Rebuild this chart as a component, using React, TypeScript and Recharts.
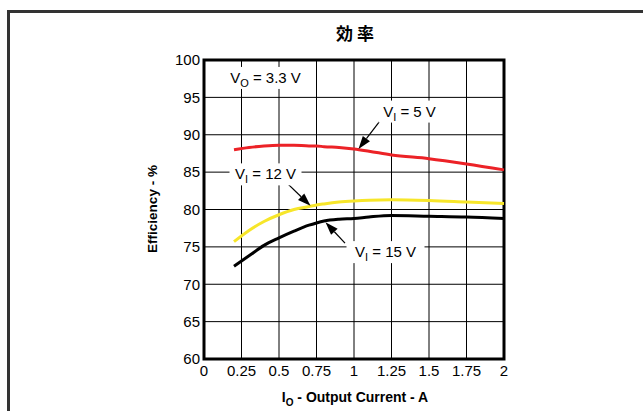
import React from 'react'
import {
    LineChart,
    Line,
    XAxis,
    YAxis,
    CartesianGrid,
    ReferenceArea,
    ReferenceLine,
    ReferenceDot,
} from "recharts";

const currents = [0.2, 0.3, 0.4, 0.5, 0.6, 0.7, 0.75, 0.8, 0.9, 1.0, 1.1, 1.25, 1.5, 1.75, 2.0];
const vin5 = [88.0, 88.3, 88.5, 88.6, 88.6, 88.5, 88.5, 88.4, 88.3, 88.1, 87.8, 87.3, 86.8, 86.1, 85.3];
const vin12 = [75.7, 77.2, 78.4, 79.3, 80.0, 80.4, 80.6, 80.75, 81.0, 81.15, 81.25, 81.3, 81.2, 81.0, 80.8];
const vin15 = [72.4, 73.8, 75.2, 76.2, 77.1, 77.9, 78.2, 78.45, 78.7, 78.8, 79.0, 79.2, 79.1, 79.0, 78.8];

const xTicks = [0, 0.25, 0.5, 0.75, 1, 1.25, 1.5, 1.75, 2];
const yTicks = [60, 65, 70, 75, 80, 85, 90, 95, 100];

// annotation text + arrow (tail -> tip) in data units
const notes = [
    { sub: "I", rest: " = 5 V", x: 1.37, y: 93.1, w: 62, tail: [1.19, 92.3], tip: [1.03, 88.1] },
    { sub: "I", rest: " = 12 V", x: 0.41, y: 84.7, w: 72, tail: [0.55, 83.6], tip: [0.71, 80.5] },
    { sub: "I", rest: " = 15 V", x: 1.21, y: 74.3, w: 78, tail: [0.94, 75.5], tip: [0.81, 78.3] },
    { sub: "O", rest: " = 3.3 V", x: 0.41, y: 97.6, w: 84, tail: null, tip: null },
];

const rows = currents.map((c, i) => ({
    current: c,
    v5: vin5[i],
    v12: vin12[i],
    v15: vin15[i],
}));

const font = "'Liberation Sans', Arial, Helvetica, sans-serif";

function Arrow(props: any) {
    const { x1, y1, x2, y2 } = props;
    if (x1 == null || x2 == null) return null;
    const ang = Math.atan2(y2 - y1, x2 - x1);
    const len = 13;
    const half = 4.5;
    const bx = x2 - len * Math.cos(ang);
    const by = y2 - len * Math.sin(ang);
    const px = -Math.sin(ang) * half;
    const py = Math.cos(ang) * half;
    return (
        <g>
            <line x1={x1} y1={y1} x2={bx} y2={by} stroke="#000" strokeWidth={1.2} />
            <polygon points={`${x2},${y2} ${bx + px},${by + py} ${bx - px},${by - py}`} fill="#000" />
        </g>
    );
}

function makeLabel(sub: string, rest: string, w: number) {
    return (props: any) => {
        const { cx, cy } = props;
        if (cx == null) return null;
        return (
            <g>
                <rect x={cx - w / 2} y={cy - 11} width={w} height={22} fill="#fff" />
                <text x={cx} y={cy + 5} textAnchor="middle" fontSize={15} fontFamily={font} fill="#000">
                    V
                    <tspan fontSize={11} dy={4}>{sub}</tspan>
                    <tspan dy={-4}>{rest}</tspan>
                </text>
            </g>
        );
    };
}

export default function App() {
    return (
        <div style={{ position: "fixed", left: 0, top: 0, width: 643, height: 411, overflow: "hidden", background: "#fff" }}>
            <div style={{ position: "absolute", left: 7, top: 10, width: 700, height: 500, border: "3px solid #333" }} />
            <div style={{ position: "absolute", left: 0, top: 22, width: 710, textAlign: "center", fontFamily: "'Noto Sans CJK JP', sans-serif", fontWeight: 700, fontSize: 17, lineHeight: "22px" }}>
                効 率
            </div>
            <div style={{ position: "absolute", left: 0, top: 0 }}>
                <LineChart width={643} height={411} data={rows} margin={{ top: 60, right: 139, left: 144, bottom: 22 }}>
                    <CartesianGrid stroke="#000" strokeWidth={1} horizontalValues={yTicks} verticalValues={xTicks} />
                    <XAxis
                        dataKey="current"
                        type="number"
                        domain={[0, 2]}
                        ticks={xTicks}
                        height={30}
                        axisLine={false}
                        tickLine={false}
                        tickSize={0}
                        tickMargin={6}
                        tick={{ fontSize: 15, fill: "#000", fontFamily: font }}
                        interval={0}
                    />
                    <YAxis
                        type="number"
                        domain={[60, 100]}
                        ticks={yTicks}
                        width={60}
                        axisLine={false}
                        tickLine={false}
                        tickSize={0}
                        tickMargin={4}
                        tick={{ fontSize: 15, fill: "#000", fontFamily: font }}
                        interval={0}
                    />
                    <ReferenceArea x1={0} x2={2} y1={60} y2={100} fill="none" stroke="#000" strokeWidth={3} fillOpacity={0} />
                    <Line type="monotone" dataKey="v5" stroke="#ec2227" strokeWidth={3} dot={false} isAnimationActive={false} />
                    <Line type="monotone" dataKey="v12" stroke="#f7e62a" strokeWidth={3} dot={false} isAnimationActive={false} />
                    <Line type="monotone" dataKey="v15" stroke="#000" strokeWidth={3} dot={false} isAnimationActive={false} />
                    {notes.filter((n) => n.tail && n.tip).map((n, i) => (
                        <ReferenceLine
                            key={"a" + i}
                            segment={[{ x: n.tail![0], y: n.tail![1] }, { x: n.tip![0], y: n.tip![1] }]}
                            shape={Arrow}
                        />
                    ))}
                    {notes.map((n, i) => (
                        <ReferenceDot key={"l" + i} x={n.x} y={n.y} r={0} shape={makeLabel(n.sub, n.rest, n.w)} />
                    ))}
                </LineChart>
            </div>
            <div style={{ position: "absolute", left: 153, top: 209, width: 0, height: 0 }}>
                <div style={{ position: "absolute", left: -70, top: -9, width: 140, textAlign: "center", transform: "rotate(-90deg)", fontFamily: font, fontWeight: 700, fontSize: 13.5, lineHeight: "18px", whiteSpace: "nowrap" }}>
                    Efficiency - %
                </div>
            </div>
            <div style={{ position: "absolute", left: 0, top: 388, width: 710, textAlign: "center", fontFamily: font, fontWeight: 700, fontSize: 14, lineHeight: "18px", whiteSpace: "nowrap" }}>
                I<sub style={{ fontSize: 10 }}>O</sub> - Output Current - A
            </div>
        </div>
    );
}
